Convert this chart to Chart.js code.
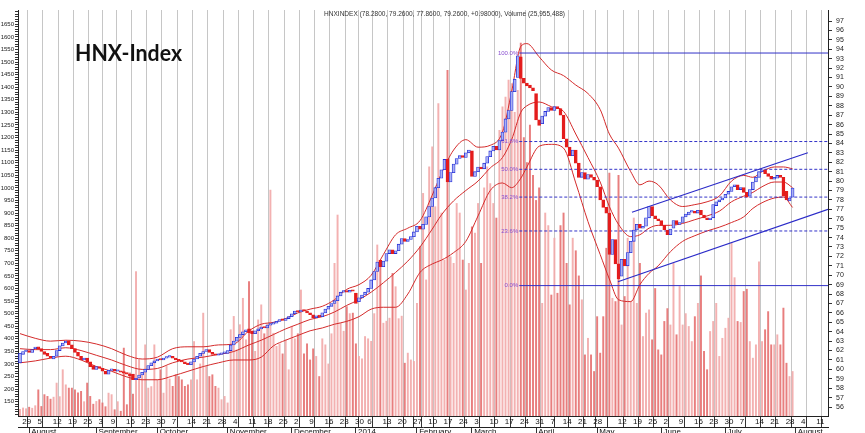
<!DOCTYPE html>
<html><head><meta charset="utf-8">
<script src="https://cdn.jsdelivr.net/npm/chart.js@4.4.1/dist/chart.umd.min.js"></script>
<style>html,body{margin:0;padding:0;background:#fff;}canvas{display:block;}</style>
</head><body>
<canvas id="c" width="865" height="433"></canvas>
<script>
// ---------------- DATA ----------------
const titleText = 'HNX-Index';
const headerText = 'HNXINDEX (78.2800, 79.2600, 77.8600, 79.2600, +0.98000), Volume (25,955,488)';

// daily open / close (trading day index 0 = 29 Jul 2013)
const openPrices = [
 60.7,61.6,61.9,62.0,61.8, 62.2,62.4,62.2,61.9,61.7, 61.4,61.1,61.4,62.0,62.5, 62.8,63.0,62.6,62.2,61.8,
 61.4,61.0,61.2,60.8,60.4, 60.0,60.3,60.1,59.8, 59.5,59.9,60.0,59.8,59.8, 59.7,59.6,59.5,59.5,58.9,
 59.1,59.4,59.7,60.0,60.4, 60.7,60.9,61.1,61.0,61.2, 61.3,61.4,61.2,61.0,60.9, 60.8,60.6,60.5,60.8,61.1,
 61.4,61.7,61.9,62.1,61.8, 61.6,61.5,61.6,61.7,61.7, 62.0,62.6,63.0,63.4,63.7, 64.0,64.3,64.1,63.8,64.1,
 64.3,64.5,64.4,64.7,64.8, 64.9,65.1,65.3,65.2,65.4, 65.6,65.9,66.2,66.1,66.3, 66.2,66.0,65.8,65.5,65.7,
 65.6,66.0,66.4,66.7,67.0, 67.3,67.8,68.2,68.3,68.2, 68.4,68.1,67.2,67.6, 67.9,68.2,68.6,69.5,70.4,
 71.6,70.9,71.5,72.3,72.7, 72.3,72.6,73.3,73.9,73.6, 73.8,74.1, 74.6,75.2,74.9, 75.4,76.2,77.3,78.2,79.3,
 80.3,81.2,82.3,79.9,80.9, 81.8,82.4,82.7,82.5,83.0, 83.2,80.5,81.0,81.5,81.3, 81.9,82.6,83.2,83.7,83.3,
 84.3,85.2,86.6,87.5,89.5, 91.0,93.2,90.9,90.4,90.2, 89.9,89.3,86.5,86.1,86.9, 87.4,87.8,87.5,87.9,
 87.7,87.0,84.5,83.6,82.7, 83.3,81.9,80.4,80.9,80.2, 80.7,80.4,80.1, 79.4,78.0,77.2,76.6,72.2,
 73.8,71.2,69.9,71.7,71.0, 72.4,73.6,74.8,75.4,75.0, 75.2,76.1,77.3,76.3,76.0, 75.8,75.3,74.8,74.3,75.0,
 75.8,75.4,75.6,76.2,76.4, 76.7,76.8,76.6,76.9,76.4, 76.1,75.9,76.1,77.4,77.8, 78.0,78.2,78.6,78.9,79.4,
 79.6,79.1,79.3,78.8,78.4, 79.1,79.9,80.4,81.0,81.2, 80.8,80.5,80.2,80.3,80.6, 80.4,78.9,77.9,78.28
];
const closePrices = [
 61.7,61.9,62.0,61.8,62.1, 62.3,62.2,61.9,61.6,61.4, 61.2,61.4,62.0,62.5,62.8, 63.0,62.6,62.2,61.8,61.4,
 61.0,61.2,60.8,60.3,60.0, 60.3,60.1,59.8,59.5, 59.9,60.0,59.8,59.8,59.7, 59.6,59.5,59.3,58.9,59.0,
 59.4,59.7,60.0,60.4,60.7, 60.9,61.1,61.0,61.2,61.3, 61.4,61.2,61.0,60.9,60.8, 60.6,60.5,60.8,61.1,61.4,
 61.7,61.9,62.1,61.8,61.6, 61.5,61.6,61.7,61.7,62.0, 62.6,63.0,63.4,63.7,64.0, 64.2,63.9,63.8,64.1,64.3,
 64.5,64.4,64.7,64.8,64.9, 65.1,65.3,65.2,65.4,65.6, 65.9,66.2,66.1,66.3,66.2, 66.0,65.8,65.5,65.7,65.6,
 66.0,66.4,66.7,67.0,67.3, 67.8,68.2,68.3,68.2,68.4, 68.3,67.0,67.6,67.9, 68.2,68.6,69.5,70.4,71.4,
 70.9,71.5,72.3,72.7,72.3, 72.6,73.3,73.9,73.6,73.8, 74.1,74.6, 75.2,74.9,75.4, 76.2,77.3,78.2,79.3,80.3,
 81.2,82.3,79.9,80.9,81.8, 82.4,82.7,82.5,83.0,83.3, 80.5,81.0,81.5,81.3,81.9, 82.6,83.2,83.7,83.3,84.3,
 85.2,86.6,87.5,89.5,90.8, 93.3,90.9,90.4,90.1,89.9, 89.6,86.5,85.9,86.9,87.4, 87.8,87.5,87.9,87.7,
 87.0,84.5,83.6,82.7,83.3, 81.9,80.4,80.9,80.2,80.7, 80.4,80.1,79.4, 78.0,77.2,76.6,72.2,73.8,
 71.2,69.6,71.7,71.0,72.4, 73.6,74.8,75.4,75.0,75.2, 76.1,77.3,76.3,76.0,75.8, 75.3,74.8,74.3,74.9,75.8,
 75.4,75.6,76.2,76.5,76.7, 76.8,76.6,76.9,76.4,76.1, 75.9,76.0,77.5,77.8,78.0, 78.2,78.6,78.9,79.4,79.6,
 79.1,79.3,78.8,78.3,79.1, 79.9,80.4,81.0,81.2,80.8, 80.5,80.2,80.4,80.6,80.4, 78.4,78.0,78.2,79.26
];
// daily volume (left axis units)
const volumes = [
 120,125,122,128,124,134,197,131,178,171, 160,168,224,170,277,217,204,204,197,185,
 191,150,224,171,140,151,158,145,130,184, 178,118,150,112,363,138,264,180,667,317,
 264,376,204,210,376,237,277,184,290,240, 211,257,250,237,211,217,237,389,237,300,
 502,290,250,257,211,204,158,171,145,436, 489,356,456,561,396,627,420,350,475,535,
 420,460,991,422,370,380,340,396,277,450, 400,420,594,340,380,316,360,330,250,400,
 376,300,420,700,892,462,430,528,500,502, 380,330,320,409,400,390,500,773,687,462,
 470,482,660,607,480,490,303,343,316,310, 541,766,978,634,1084,1163,925,1335,900,713,
 1467,726,700,938,900,713,594,700,845,820, 938,700,1000,1084,1017,938,880,1229,1322,1361,
 1428,1414,1300,1388,1575,1200,1100,1250,1050,950, 1000,541,900,850,574,800,581,850,900,700,
 535,800,750,650,555,336,402,336,270,488, 343,488,760,1059,561,548,1050,455,568,800,
 548,880,541,700,409,502,515,396,600,356, 336,469,520,455,700,416,608,455,500,449,
 389,488,541,650,350,277,429,469,541,330, 402,442,482,780,643,469,465,588,597,389,
 323,376,706,389,436,508,376,376,416,376, 522,303,250,270
];
// Bollinger bands read at sample days
const bandIdx = [0,5,10,15,20,25,30,35,40,45,50,55,60,65,70,75,79,83,87,91,95,99,103,107,111,115,119,123,127,131,135,138,142,146,150,154,158,161,164,166,170,174,178,182,186,190,193,196,200,203,206,209,213,217,221,225,229,233,237,240,243,247,250,253];
const bandUpper = [63.8,63.3,63.0,63.1,63.0,62.7,62.2,61.5,61.1,61.3,62.2,62.4,62.4,62.6,62.7,64.1,64.8,65.0,65.4,66.0,66.4,66.7,67.4,68.5,69.0,70.0,72.2,74.3,75.0,75.8,78.5,80.8,83.3,84.4,83.6,83.8,85.2,89.5,94.3,94.6,93.2,91.8,91.2,90.2,89.3,87.6,85.0,83.5,81.0,79.6,80.0,79.6,78.0,77.3,77.5,77.8,78.4,80.0,80.6,80.4,81.0,81.5,81.5,81.3];
const bandMiddle = [62.2,62.1,62.1,62.3,62.0,61.5,61.0,60.4,60.0,60.1,60.7,61.1,61.3,61.6,61.9,62.6,63.1,63.7,64.3,64.8,65.3,65.6,66.1,66.8,67.4,68.2,69.2,70.3,71.5,73.0,74.9,76.4,77.9,79.0,80.0,81.4,82.5,84.4,87.3,88.0,88.4,87.9,87.4,85.0,82.5,79.9,77.3,75.4,74.1,74.3,75.0,75.3,75.3,75.5,75.9,76.3,76.8,77.8,78.4,78.8,79.4,79.9,79.9,79.3];
const bandLower = [60.7,60.9,61.2,61.4,61.0,60.3,59.8,59.2,58.9,58.9,59.3,59.8,60.3,60.7,61.0,61.0,61.3,62.5,63.1,63.6,64.1,64.4,64.8,65.1,65.6,66.4,66.6,66.6,68.0,70.3,71.2,71.6,72.4,73.6,76.3,79.0,79.8,79.3,80.3,81.5,83.7,83.9,83.5,79.8,75.7,72.2,69.6,67.4,67.2,69.0,70.2,71.0,72.5,73.6,74.2,74.7,75.1,75.6,76.2,77.1,77.7,78.2,78.3,77.2];
// Fibonacci retracement
const fibLevels = [93.6, 84.2, 81.25, 78.3, 74.7, 68.9];
const fibLabels = ['100.0%','61.8%','50.0%','38.2%','23.6%','0.0%'];
const fibStart = 163.5;
// trend channel endpoints [day, price]
const channelUpper = [[200.4, 76.7], [258.0, 83.0]];
const channelLower = [[195.8, 69.3], [264.6, 77.0]];
// axis ticks
const weekIdx = [0,5,10,15,20,25,29,34,39,44,49,54,59,64,69,74,79,84,89,94,99,104,109,113,118,123,128,130,133,138,143,148,153,158,163,168,173,177,182,187,190,195,200,205,210,215,220,225,230,235,240,245,250,255,260];
const weekLabels = ['29','5','12','19','26','3','9','16','23','30','7','14','21','28','4','11','18','25','2','9','16','23','30','6','13','20','27','','10','17','24','3','10','17','24','31','7','14','21','28','','12','19','26','2','9','16','23','30','7','14','21','28','4','11'];
const monthIdx = [3,25,45,68,89,110,130,148,169,189,210,231,254];
const monthLabels = ['August','September','October','November','December','2014','February','March','April','May','June','July','August'];
const priceTicks = [56,57,58,59,60,61,62,63,64,65,66,67,68,69,70,71,72,73,74,75,76,77,78,79,80,81,82,83,84,85,86,87,88,89,90,91,92,93,94,95,96,97];
const volumeTickLabels = [150,200,250,300,350,400,450,500,550,600,650,700,750,800,850,900,950,1000,1050,1100,1150,1200,1250,1300,1350,1400,1450,1500,1550,1600,1650];

// ---------------- CHART ----------------
const X_MIN = -0.65, X_MAX = 264.6;
const FONT = '"Liberation Sans", Arial, sans-serif';
const isUp = openPrices.map((o, i) => closePrices[i] >= o);

const datasets = [];
datasets.push({
  type: 'bar', label: 'Volume', yAxisID: 'yv', order: 10, grouped: false,
  data: volumes.map((v, i) => ({x: i, y: v})),
  backgroundColor: isUp.map(u => u ? 'rgba(242,168,168,0.9)' : 'rgba(230,112,112,0.9)'),
  barThickness: 1.3, borderWidth: 0
});
const bandStyle = {type: 'line', yAxisID: 'yp', order: 4, borderColor: '#d42a2a', borderWidth: 1, pointRadius: 0, fill: false, cubicInterpolationMode: 'monotone'};
datasets.push(Object.assign({label: 'Upper', data: bandIdx.map((x, k) => ({x, y: bandUpper[k]}))}, bandStyle));
datasets.push(Object.assign({label: 'Middle', data: bandIdx.map((x, k) => ({x, y: bandMiddle[k]}))}, bandStyle));
datasets.push(Object.assign({label: 'Lower', data: bandIdx.map((x, k) => ({x, y: bandLower[k]}))}, bandStyle));
fibLevels.forEach((lv, k) => {
  const solid = (k === 0 || k === fibLevels.length - 1);
  datasets.push({type: 'line', label: fibLabels[k], yAxisID: 'yp', order: 3,
    data: [{x: fibStart, y: lv}, {x: X_MAX, y: lv}],
    borderColor: '#3232c8', borderWidth: 1, borderDash: solid ? [] : [3, 2], pointRadius: 0});
});
[channelUpper, channelLower].forEach((c, k) => {
  datasets.push({type: 'line', label: 'Channel' + k, yAxisID: 'yp', order: 3,
    data: c.map(p => ({x: p[0], y: p[1]})),
    borderColor: '#2a2ac8', borderWidth: 1.1, pointRadius: 0});
});
datasets.push({
  type: 'bar', label: 'HNXINDEX', yAxisID: 'yp', order: 1, grouped: false,
  data: openPrices.map((o, i) => ({x: i, y: [o, closePrices[i]]})),
  backgroundColor: isUp.map(u => u ? '#aab0f4' : '#e41c1c'),
  borderColor: isUp.map(u => u ? '#2430d8' : '#e41c1c'),
  borderWidth: 0.8, borderSkipped: false, barThickness: 3, minBarLength: 1.5
});

const overlay = {
  id: 'overlay',
  afterDraw(chart) {
    const {ctx} = chart;
    const xs = chart.scales.x, yp = chart.scales.yp;
    ctx.save();
    ctx.fillStyle = '#111';
    ctx.textAlign = 'left';
    ctx.textBaseline = 'alphabetic';
    ctx.font = 'bold 23px Lato, "Open Sans", sans-serif';
    ctx.fillText(titleText, 75, 61, 107);
    ctx.fillStyle = '#333';
    ctx.font = '7px ' + FONT;
    ctx.fillText(headerText, 324, 16, 241);
    ctx.fillStyle = '#8a4fd0';
    ctx.font = '6px ' + FONT;
    ctx.textAlign = 'right';
    ctx.textBaseline = 'middle';
    const fx = xs.getPixelForValue(fibStart) - 1;
    fibLevels.forEach((lv, k) => ctx.fillText(fibLabels[k], fx, yp.getPixelForValue(lv)));
    ctx.restore();
  }
};

new Chart(document.getElementById('c'), {
  data: {datasets},
  plugins: [overlay],
  options: {
    responsive: false, animation: false, devicePixelRatio: 1,
    layout: {padding: {top: 10, left: 0, right: 0, bottom: 0}},
    plugins: {legend: {display: false}, tooltip: {enabled: false}},
    scales: {
      x: {
        type: 'linear', position: 'bottom', weight: 0, min: X_MIN, max: X_MAX, offset: false,
        afterBuildTicks: s => { s.ticks = weekIdx.map(v => ({value: v})); },
        afterFit: s => { s.height = 11; },
        ticks: {autoSkip: false, maxRotation: 0, align: 'start', padding: -10, color: '#111',
          font: {size: 8, family: FONT}, callback: (v, i) => ' ' + weekLabels[i]},
        grid: {drawOnChartArea: true, color: '#c6c6c6', borderDash: [2, 3], lineWidth: 1,
          tickLength: 11, tickColor: '#333', tickBorderDash: [1, 0], tickWidth: 1},
        border: {display: true, color: '#222', width: 1}
      },
      xm: {
        type: 'linear', position: 'bottom', weight: 1, min: X_MIN, max: X_MAX, offset: false,
        afterBuildTicks: s => { s.ticks = monthIdx.map(v => ({value: v})); },
        afterFit: s => { s.height = 6; },
        ticks: {autoSkip: false, maxRotation: 0, align: 'start', padding: -6, color: '#111',
          font: {size: 8, family: FONT}, callback: (v, i) => ' ' + monthLabels[i]},
        grid: {drawOnChartArea: false, tickLength: 6, color: '#333', tickColor: '#333'},
        border: {display: true, color: '#222', width: 1}
      },
      yv: {
        type: 'linear', position: 'left', min: 93, max: 1707,
        afterBuildTicks: s => { const t = []; for (let v = 100; v <= 1700; v += 10) t.push({value: v}); s.ticks = t; },
        afterFit: s => { s.width = 18; },
        ticks: {autoSkip: false, padding: 1, color: '#222', font: {size: 6, family: FONT},
          callback: v => volumeTickLabels.includes(v) ? String(v) : ''},
        grid: {drawOnChartArea: false, tickLength: 3, color: '#333'},
        border: {display: true, color: '#222', width: 1}
      },
      yp: {
        type: 'linear', position: 'right', min: 55.05, max: 98.17,
        afterBuildTicks: s => { s.ticks = priceTicks.map(v => ({value: v})); },
        afterFit: s => { s.width = 37; },
        ticks: {autoSkip: false, padding: 4, color: '#222', font: {size: 7, family: FONT}},
        grid: {drawOnChartArea: false, tickLength: 4, color: '#333'},
        border: {display: true, color: '#222', width: 1}
      }
    }
  }
});
</script>
</body></html>
